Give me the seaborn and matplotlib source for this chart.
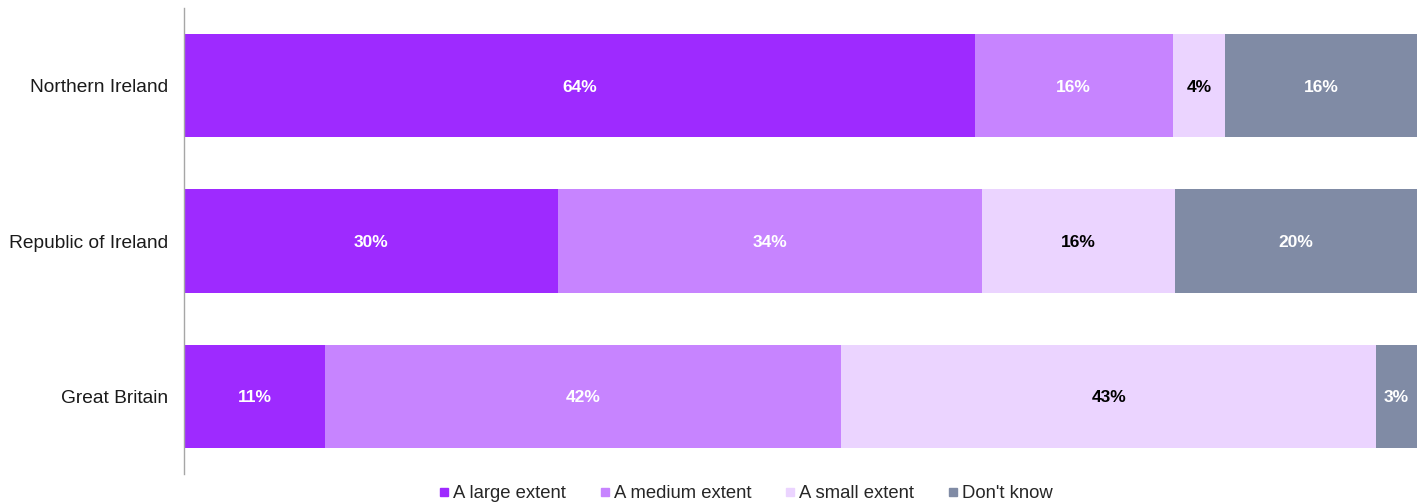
import matplotlib
matplotlib.use("Agg")
import matplotlib.pyplot as plt
import seaborn as sns
import numpy as np
import pandas as pd
from matplotlib.lines import Line2D

regions = ["Northern Ireland", "Republic of Ireland", "Great Britain"]
series_names = ["A large extent", "A medium extent", "A small extent", "Don't know"]
large = [64.1, 30.3, 11.4]
medium = [16.1, 34.4, 41.9]
small = [4.2, 15.7, 43.4]
dont_know = [15.6, 19.6, 3.3]
colors = ["#9E2AFF", "#C784FF", "#EBD4FF", "#808BA5"]
text_colors = ["white", "white", "black", "white"]

sns.set_theme(style="white")
plt.rcParams['font.family'] = ['Liberation Sans', 'DejaVu Sans']

fig = plt.figure(figsize=(14.22, 5.04), dpi=100)
ax = fig.add_axes([0.1297, 0.0595, 0.8668, 0.9245])

vals = [large, medium, small, dont_know]
cum = np.cumsum(np.array(vals), axis=0)

# draw from the full stack downwards so earlier segments overlay later ones
for i in range(len(vals) - 1, -1, -1):
    df = pd.DataFrame({"region": regions, "value": cum[i]})
    sns.barplot(data=df, x="value", y="region", orient="h", color=colors[i],
                saturation=1, width=0.665, ax=ax, linewidth=0, order=regions)

for i, series in enumerate(vals):
    for j, v in enumerate(series):
        left = cum[i][j] - v
        ax.text(left + v / 2, j + 0.01, f"{v:.0f}%", ha="center", va="center",
                color=text_colors[i], fontsize=12.5, fontweight="bold")

ax.set_xlim(0, 100)
ax.set_ylim(2.5, -0.5)
ax.set_xlabel("")
ax.set_ylabel("")
ax.set_xticks([])
ax.tick_params(axis="y", length=0, labelsize=13.8, pad=12, colors="#1a1a1a")
for s in ["top", "right", "bottom"]:
    ax.spines[s].set_visible(False)
ax.spines["left"].set_color("#A6A6A6")
ax.spines["left"].set_linewidth(1)

handles = [Line2D([0], [0], marker="s", linestyle="", markersize=6,
                  markerfacecolor=c, markeredgecolor=c) for c in colors]
fig.legend(handles, series_names, loc="center", bbox_to_anchor=(0.523, 0.02),
           ncol=4, frameon=False, fontsize=13.3, handletextpad=0.0,
           columnspacing=1.6, handlelength=1.0)

fig.savefig("out.png", dpi=100, facecolor="white")
